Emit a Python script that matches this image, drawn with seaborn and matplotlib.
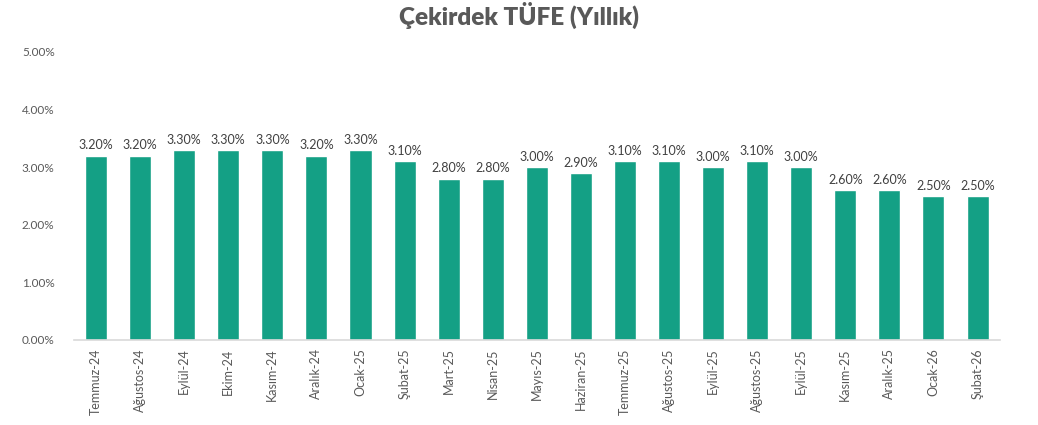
import pandas as pd
import matplotlib
matplotlib.use("Agg")
import matplotlib.pyplot as plt
import seaborn as sns
from matplotlib.ticker import PercentFormatter

# DATA
months = ["Temmuz-24", "Ağustos-24", "Eylül-24", "Ekim-24", "Kasım-24", "Aralık-24",
          "Ocak-25", "Şubat-25", "Mart-25", "Nisan-25", "Mayıs-25", "Haziran-25",
          "Temmuz-25", "Ağustos-25", "Eylül-25", "Ağustos-25", "Eylül-25",
          "Kasım-25", "Aralık-25", "Ocak-26", "Şubat-26"]
core_cpi = [3.2, 3.2, 3.3, 3.3, 3.3, 3.2, 3.3, 3.1, 2.8, 2.8, 3.0, 2.9,
            3.1, 3.1, 3.0, 3.1, 3.0, 2.6, 2.6, 2.5, 2.5]

df = pd.DataFrame({"pos": range(len(months)), "value": core_cpi})

sns.set_style("white")
plt.rcParams["font.family"] = ["Lato", "DejaVu Sans"]

fig = plt.figure(figsize=(10.38, 4.25), dpi=100)
ax = fig.add_axes([0.0713, 0.2, 0.8917, 0.678])

sns.barplot(data=df, x="pos", y="value", color="#14A085", saturation=1,
            width=0.5, ax=ax)

ax.set_ylim(0, 5)
ax.set_xlim(-0.5, len(months) - 0.5)
ax.yaxis.set_major_formatter(PercentFormatter(decimals=2))
ax.set_yticks([0, 1, 2, 3, 4, 5])
ax.set_xticks(range(len(months)))
ax.set_xticklabels(months, rotation=90, fontsize=9, color="#595959")
ax.tick_params(axis="y", labelsize=8.5, labelcolor="#595959", length=0, pad=14)
ax.tick_params(axis="x", length=0, pad=6)
ax.set_xlabel("")
ax.set_ylabel("")

for s in ["top", "right", "left"]:
    ax.spines[s].set_visible(False)
ax.spines["bottom"].set_color("#d9d9d9")
ax.spines["bottom"].set_linewidth(1.2)

ax.bar_label(ax.containers[0], labels=[f"{v:.2f}%" for v in core_cpi],
             fontsize=9, color="#404040", padding=3)

fig.suptitle("Çekirdek TÜFE (Yıllık)", y=0.995, fontsize=17.5, fontweight="heavy",
             color="#595959")

fig.savefig("out.png", dpi=100)
